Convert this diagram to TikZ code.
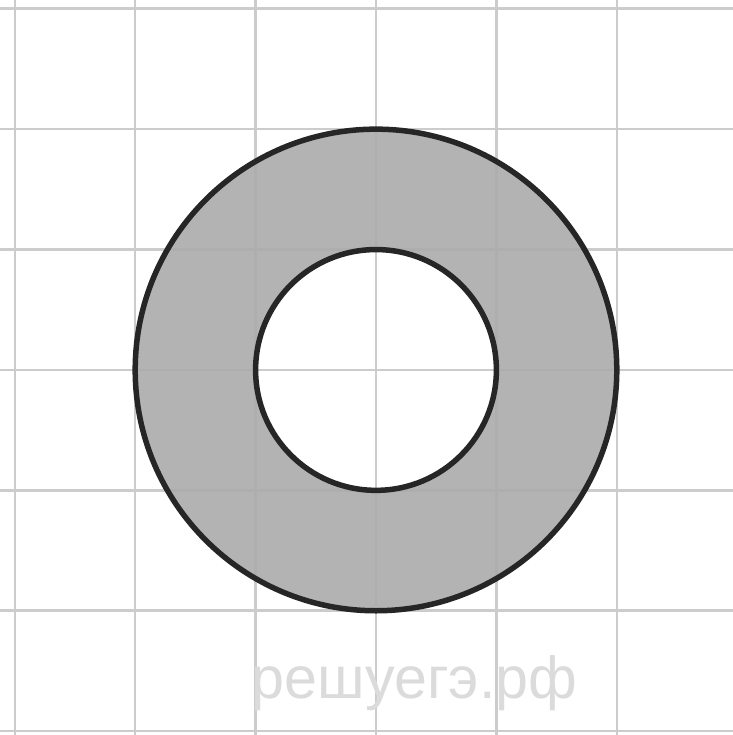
\documentclass[tikz,border=0pt]{standalone}
\usepackage{fontspec}
\setmainfont{Liberation Sans}
\usepackage{tikz}

\begin{document}
\begin{tikzpicture}
    \useasboundingbox (-3.123, -3.032) rectangle (2.965, 3.073);

    % squared paper
    \foreach \x in {-3, -2, -1, 0, 1, 2} {
        \draw[black!20, line width=0.6pt] (\x, -3.1) -- (\x, 3.1);
    }
    \foreach \y in {-3, -2, -1, 0, 1, 2, 3} {
        \draw[black!20, line width=0.6pt] (-3.2, \y) -- (3, \y);
    }

    % ring between the two circles
    \fill[black!33, fill opacity=0.9, even odd rule] (0, 0) circle (2) (0, 0) circle (1);

    % outlines
    \draw[black!85, line width=1.3pt] (0, 0) circle (2);
    \draw[black!85, line width=1.3pt] (0, 0) circle (1);

    \node[black!14, font=\fontsize{14}{16}\selectfont] (mark) at (0.32, -2.6) {решуегэ.рф};
\end{tikzpicture}
\end{document}
